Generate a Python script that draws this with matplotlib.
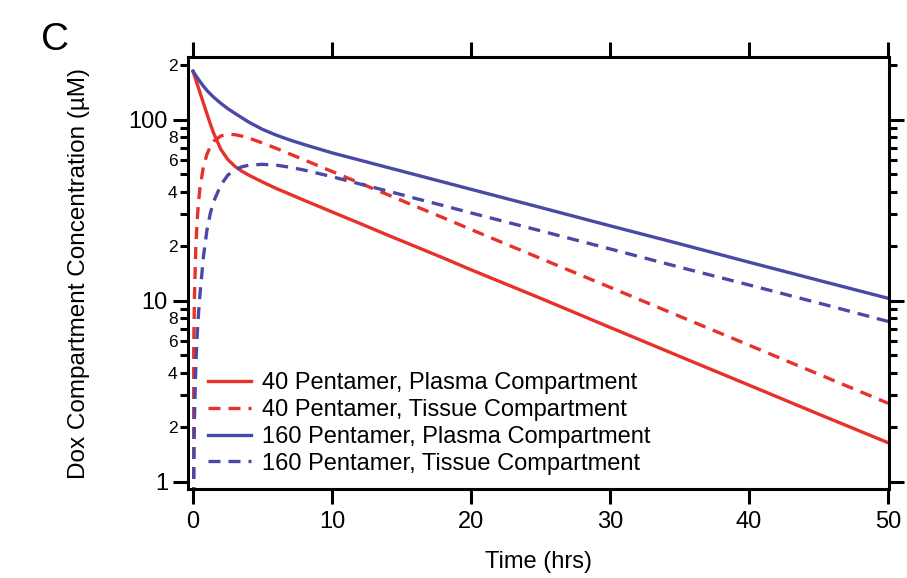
import numpy as np
import matplotlib
matplotlib.use("Agg")
import matplotlib.pyplot as plt
from matplotlib.ticker import LogLocator, FuncFormatter, NullLocator, FixedLocator

plt.rcParams['font.family'] = ['Liberation Sans', 'DejaVu Sans']

# ---- data ----
time_hrs = [0, 0.05, 0.1, 0.2, 0.3, 0.4, 0.5, 0.75, 1, 1.25, 1.5, 2, 2.5, 3, 3.5, 4, 5, 6,
            7, 8, 10, 12, 14, 16, 18, 20, 25, 30, 35, 40, 45, 50]

p40_plasma = [185, 180.0, 175.2, 166.0, 157.2, 148.9, 141.1, 123.2, 107.7, 94.3, 83.5, 68.5,
              60.2, 55.3, 51.9, 49.4, 45.2, 41.6, 38.6, 35.8, 30.9, 26.7, 23.0, 19.9, 17.2,
              14.8, 10.3, 7.11, 4.92, 3.41, 2.36, 1.64]
p40_tissue = [0, 5.4, 10.4, 19.7, 28, 35.3, 41.9, 55.1, 64.3, 71.2, 76, 81.2, 82.9, 82.6,
              81.1, 79.1, 74.3, 69.3, 64.4, 59.9, 51.7, 44.6, 38.5, 33.2, 28.7, 24.7, 17.1,
              11.84, 8.19, 5.67, 3.92, 2.71]
p160_plasma = [185, 182.5, 180, 175.3, 170.8, 166.5, 162.4, 153, 145, 138.5, 132.7, 123,
               115, 108.5, 102.5, 97, 88.3, 82, 77, 72.8, 65.5, 59.7, 54.4, 49.6, 45.2, 41.2,
               32.7, 25.9, 20.6, 16.3, 12.95, 10.3]
p160_tissue = [0, 1.1, 2.2, 4.4, 6.5, 8.6, 10.8, 17.5, 24.5, 30.5, 35.5, 43.5, 49.3, 52.8,
               54.8, 56, 56.6, 56.0, 54.5, 52.6, 48.4, 44.1, 40.3, 36.7, 33.5, 30.5, 24.3,
               19.3, 15.3, 12.2, 9.7, 7.67]

series_labels = ["40 Pentamer, Plasma Compartment",
                 "40 Pentamer, Tissue Compartment",
                 "160 Pentamer, Plasma Compartment",
                 "160 Pentamer, Tissue Compartment"]

x_ticks = [0, 10, 20, 30, 40, 50]

RED = "#E6332A"
BLUE = "#4A4AA6"

fig = plt.figure(figsize=(9.07, 5.78), dpi=100)
ax = fig.add_axes([0.2073, 0.154, 0.7729, 0.7469])

lw = 2.4
dash = (3.6, 2.4)
ax.plot(time_hrs, p40_plasma, color=RED, lw=lw, label=series_labels[0])
ax.plot(time_hrs, p40_tissue, color=RED, lw=lw, dashes=dash, label=series_labels[1])
ax.plot(time_hrs, p160_plasma, color=BLUE, lw=lw, label=series_labels[2])
ax.plot(time_hrs, p160_tissue, color=BLUE, lw=lw, dashes=dash, label=series_labels[3])

ax.set_yscale('log')
ax.set_xlim(-0.36, 50.07)
ax.set_ylim(0.91, 221)

ax.xaxis.set_major_locator(FixedLocator(x_ticks))
ax.xaxis.set_minor_locator(NullLocator())
ax.yaxis.set_major_locator(LogLocator(base=10))
ax.yaxis.set_minor_locator(LogLocator(base=10, subs=np.arange(2, 10)))


def major_fmt(v, pos):
    return f"{v:g}"


def minor_fmt(v, pos):
    lead = int(round(v / 10 ** np.floor(np.log10(v) + 1e-9)))
    return str(lead) if lead in (2, 4, 6, 8) else ""


ax.yaxis.set_major_formatter(FuncFormatter(major_fmt))
ax.yaxis.set_minor_formatter(FuncFormatter(minor_fmt))

for s in ax.spines.values():
    s.set_linewidth(2.2)

ax.tick_params(which='major', direction='out', length=10.5, width=2.2,
               labelsize=17, top=True, right=True, labeltop=False, labelright=False,
               pad=4)
ax.tick_params(axis='x', which='major', pad=5)
ax.tick_params(which='minor', direction='out', length=5.5, width=2.2,
               labelsize=12.5, right=True, left=True, labelright=False, pad=2)

ax.set_xlabel("Time (hrs)", fontsize=17, labelpad=13)
ax.set_ylabel("Dox Compartment Concentration (µM)", fontsize=17.5, labelpad=28)

ax.legend(loc='upper left', bbox_to_anchor=(0.0285, 0.27), frameon=False,
          fontsize=17, handlelength=1.8, handletextpad=0.5, labelspacing=0.2,
          borderaxespad=0, borderpad=0)

fig.text(0.045, 0.93, "C", fontsize=28, ha='left', va='center')

fig.savefig("out.png", dpi=100)
